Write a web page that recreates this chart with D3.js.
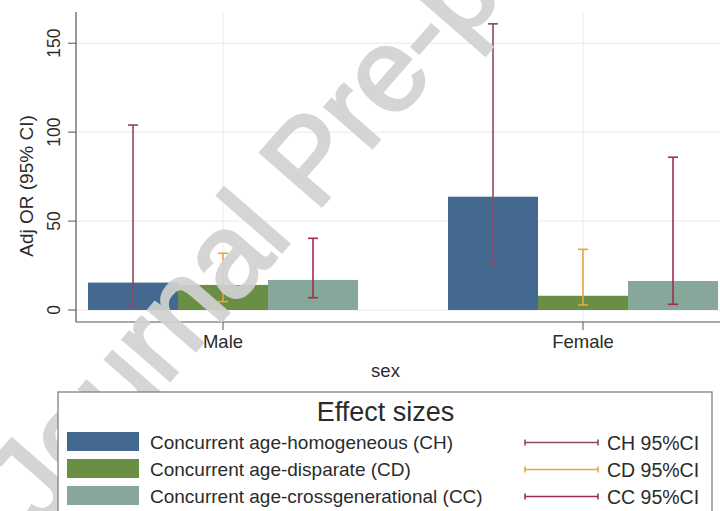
<!DOCTYPE html>
<meta charset="utf-8">
<script src="https://d3js.org/d3.v7.min.js"></script>
<style>
  body { margin: 0; background: #fff; }
  text { font-family: "Liberation Sans", Arial, sans-serif; fill: #2b2b2b; }
</style>
<svg id="chart" width="720" height="511"></svg>
<script>

// data
var groups = ["Male", "Female"];
var series = ["CH", "CD", "CC"];
var seriesNames = ["Concurrent age-homogeneous (CH)", "Concurrent age-disparate (CD)", "Concurrent age-crossgenerational (CC)"];
var ciNames = ["CH 95%CI", "CD 95%CI", "CC 95%CI"];
// adjusted OR per group, in series order
var orMale = [15.4, 14.1, 16.9];
var orFemale = [63.7, 8.0, 16.3];
var loMale = [2.5, 4.7, 6.9];
var hiMale = [104, 31.9, 40.3];
var loFemale = [25.3, 2.8, 3.2];
var hiFemale = [160.9, 34.1, 85.9];
var yTicks = [0, 50, 100, 150];

var barColors = ["#436990", "#6b8e45", "#87a79b"];
var ciColors = ["#8e4866", "#e6a640", "#a02c4e"];

var svg = d3.select("#chart");

// build rows for drawing
var rows = [];
groups.forEach(function(g, gi) {
  var or = gi == 0 ? orMale : orFemale;
  var lo = gi == 0 ? loMale : loFemale;
  var hi = gi == 0 ? hiMale : hiFemale;
  series.forEach(function(s, si) {
    rows.push({ group: g, s: s, i: si, or: or[si], lo: lo[si], hi: hi[si] });
  });
});

// scales
var y = d3.scaleLinear().domain([-6.75, 167]).range([322, 13]);
var x0 = d3.scaleBand().domain(groups).range([43, 763]);
var x1 = d3.scaleBand().domain(series).range([45, 315]);

var plot = svg.append("g");

// grid
plot.selectAll(".hgrid")
  .data(yTicks)
  .enter().append("line")
    .attr("x1", 77).attr("x2", 720)
    .attr("y1", function(d) { return y(d); })
    .attr("y2", function(d) { return y(d); })
    .style("stroke", "#e9e9e9").style("stroke-width", 1);

plot.selectAll(".vgrid")
  .data(groups)
  .enter().append("line")
    .attr("x1", function(d) { return x0(d) + x0.bandwidth() / 2; })
    .attr("x2", function(d) { return x0(d) + x0.bandwidth() / 2; })
    .attr("y1", 13).attr("y2", 322)
    .style("stroke", "#ececec").style("stroke-width", 1);

// bars
plot.selectAll(".bar")
  .data(rows)
  .enter().append("rect")
    .attr("x", function(d) { return x0(d.group) + x1(d.s); })
    .attr("width", x1.bandwidth())
    .attr("y", function(d) { return y(d.or); })
    .attr("height", function(d) { return y(0) - y(d.or); })
    .attr("fill", function(d) { return barColors[d.i]; });

// error bars
var eb = plot.selectAll(".eb")
  .data(rows)
  .enter().append("g")
    .attr("transform", function(d) { return "translate(" + (x0(d.group) + x1(d.s) + x1.bandwidth() / 2) + ",0)"; })
    .style("stroke", function(d) { return ciColors[d.i]; })
    .style("stroke-width", 1.6);

eb.append("line")
  .attr("y1", function(d) { return y(d.lo); })
  .attr("y2", function(d) { return y(d.hi); });
eb.append("line")
  .attr("x1", -5).attr("x2", 5)
  .attr("y1", function(d) { return y(d.hi); })
  .attr("y2", function(d) { return y(d.hi); });
eb.append("line")
  .attr("x1", -5).attr("x2", 5)
  .attr("y1", function(d) { return y(d.lo); })
  .attr("y2", function(d) { return y(d.lo); });

// axes
svg.append("line")
  .attr("x1", 76).attr("x2", 76).attr("y1", 12).attr("y2", 322)
  .style("stroke", "#555").style("stroke-width", 1.2);
svg.append("line")
  .attr("x1", 76).attr("x2", 720).attr("y1", 322).attr("y2", 322)
  .style("stroke", "#555").style("stroke-width", 1.2);

svg.selectAll(".ytick")
  .data(yTicks)
  .enter().append("line")
    .attr("x1", 68).attr("x2", 76)
    .attr("y1", function(d) { return y(d); })
    .attr("y2", function(d) { return y(d); })
    .style("stroke", "#555");

svg.selectAll(".ylab")
  .data(yTicks)
  .enter().append("text")
    .attr("transform", function(d) { return "translate(60," + y(d) + ") rotate(-90)"; })
    .attr("text-anchor", "middle")
    .style("font-size", "17.5px")
    .text(function(d) { return d; });

svg.append("text")
  .attr("transform", "translate(33,186) rotate(-90)")
  .attr("text-anchor", "middle")
  .style("font-size", "19px")
  .text("Adj OR (95% CI)");

svg.selectAll(".xtick")
  .data(groups)
  .enter().append("line")
    .attr("x1", function(d) { return x0(d) + x0.bandwidth() / 2; })
    .attr("x2", function(d) { return x0(d) + x0.bandwidth() / 2; })
    .attr("y1", 322).attr("y2", 330)
    .style("stroke", "#555");

// watermark across the page (under the legend box)
svg.append("text")
  .attr("transform", "translate(40,530) rotate(-49)")
  .style("font-size", "118px")
  .style("fill", "#d2d2d2")
  .style("stroke", "#d2d2d2")
  .style("stroke-width", 3)
  .style("opacity", 0.92)
  .text("Journal Pre-proof");

svg.selectAll(".xlab")
  .data(groups)
  .enter().append("text")
    .attr("x", function(d) { return x0(d) + x0.bandwidth() / 2; })
    .attr("y", 348)
    .attr("text-anchor", "middle")
    .style("font-size", "18.5px")
    .text(function(d) { return d; });

svg.append("text")
  .attr("x", 385.5).attr("y", 377)
  .attr("text-anchor", "middle")
  .style("font-size", "18.5px")
  .text("sex");

// legend
var leg = svg.append("g");
leg.append("rect")
  .attr("x", 58).attr("y", 392).attr("width", 654).attr("height", 140)
  .attr("fill", "#fff").style("stroke", "#777").style("stroke-width", 1.2);
leg.append("text")
  .attr("x", 385.5).attr("y", 421)
  .attr("text-anchor", "middle")
  .style("font-size", "27px")
  .text("Effect sizes");

var ly = d3.scaleBand().domain(series).range([428, 509]);

leg.selectAll(".sw")
  .data(series)
  .enter().append("rect")
    .attr("x", 67).attr("width", 72)
    .attr("y", function(d) { return ly(d) + ly.bandwidth() / 2 - 9.5; })
    .attr("height", 19)
    .attr("fill", function(d, i) { return barColors[i]; });

leg.selectAll(".swlab")
  .data(seriesNames)
  .enter().append("text")
    .attr("x", 150)
    .attr("y", function(d, i) { return ly(series[i]) + ly.bandwidth() / 2 + 7; })
    .style("font-size", "19px")
    .text(function(d) { return d; });

var ci = leg.selectAll(".ci")
  .data(series)
  .enter().append("g")
    .attr("transform", function(d) { return "translate(0," + (ly(d) + ly.bandwidth() / 2 + 1) + ")"; })
    .style("stroke", function(d, i) { return ciColors[i]; })
    .style("stroke-width", 1.6);
ci.append("line").attr("x1", 525).attr("x2", 598);
ci.append("line").attr("x1", 525).attr("x2", 525).attr("y1", -3).attr("y2", 3);
ci.append("line").attr("x1", 598).attr("x2", 598).attr("y1", -3).attr("y2", 3);

leg.selectAll(".cilab")
  .data(ciNames)
  .enter().append("text")
    .attr("x", 607)
    .attr("y", function(d, i) { return ly(series[i]) + ly.bandwidth() / 2 + 8; })
    .style("font-size", "19.5px")
    .text(function(d) { return d; });

</script>
